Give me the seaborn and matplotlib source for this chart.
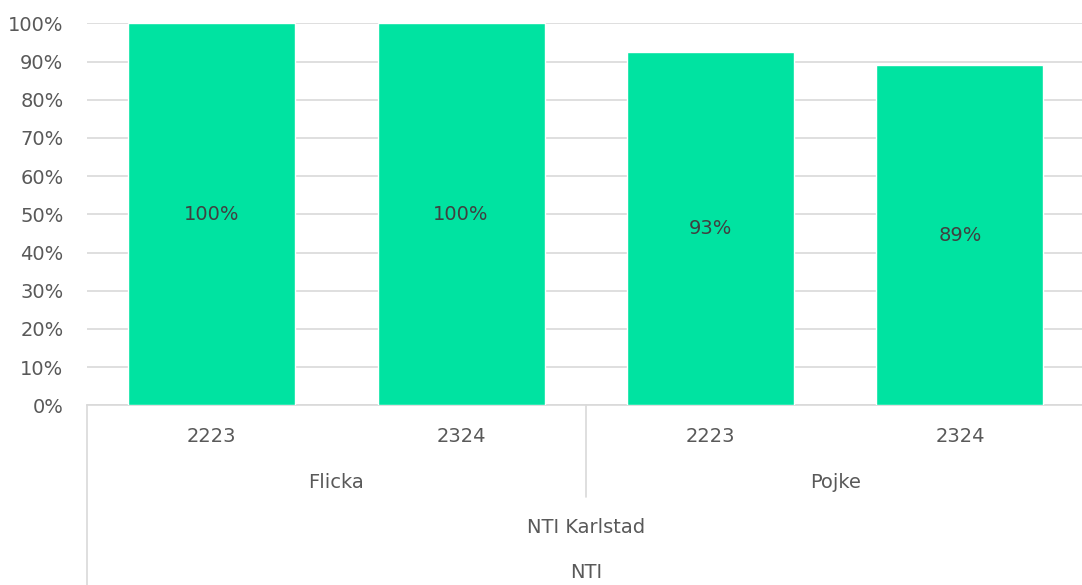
import pandas as pd
import matplotlib.pyplot as plt
import seaborn as sns
from matplotlib.ticker import PercentFormatter

# Data
skola = ['NTI', 'NTI', 'NTI', 'NTI']
enhet = ['NTI Karlstad', 'NTI Karlstad', 'NTI Karlstad', 'NTI Karlstad']
kon = ['Flicka', 'Flicka', 'Pojke', 'Pojke']
lasar = ['2223', '2324', '2223', '2324']
andel = [1.00, 1.00, 0.926, 0.89]

df = pd.DataFrame({'skola': skola, 'enhet': enhet, 'kon': kon,
                   'lasar': lasar, 'andel': andel})
df['id'] = df['kon'] + ' ' + df['lasar']

sns.set_theme(style='white')
plt.rcParams['font.family'] = ['DejaVu Sans']

text_col = '#595959'
grid_col = '#d9d9d9'
bar_col = '#00E3A1'
fs = 14

fig = plt.figure(figsize=(10.82, 5.85), dpi=100)
ax = fig.add_axes([0.0804, 0.3072, 0.922, 0.6528])

sns.barplot(data=df, x='id', y='andel', color=bar_col, width=0.67,
            saturation=1, ax=ax, zorder=3)

ax.set_ylim(0, 1)
ax.set_xlim(-0.5, 3.5)
ax.set_yticks([i / 10 for i in range(11)])
ax.yaxis.set_major_formatter(PercentFormatter(1.0, decimals=0))
ax.tick_params(axis='y', length=0, labelsize=fs, colors=text_col, pad=17)
ax.tick_params(axis='x', length=0)
ax.set_xticks([])
ax.set_xlabel('')
ax.set_ylabel('')
ax.grid(axis='y', color=grid_col, linewidth=1.2, zorder=0)
for s in ['top', 'right', 'left']:
    ax.spines[s].set_visible(False)
ax.spines['bottom'].set_color(grid_col)
ax.spines['bottom'].set_linewidth(1.2)

ax.bar_label(ax.containers[0], labels=[f'{v:.0%}' for v in df['andel']],
             label_type='center', fontsize=fs, color='#404040')

trans = ax.get_xaxis_transform()
# year labels
for i, yr in enumerate(df['lasar']):
    ax.text(i, -0.083, yr, transform=trans, ha='center', va='center',
            fontsize=fs, color=text_col, clip_on=False)
# gender labels
for k in df['kon'].unique():
    pos = [i for i, v in enumerate(df['kon']) if v == k]
    ax.text(sum(pos) / len(pos), -0.203, k, transform=trans, ha='center',
            va='center', fontsize=fs, color=text_col, clip_on=False)
mid = (len(df) - 1) / 2
ax.text(mid, -0.319, enhet[0], transform=trans, ha='center', va='center',
        fontsize=fs, color=text_col, clip_on=False)
ax.text(mid, -0.439, skola[0], transform=trans, ha='center', va='center',
        fontsize=fs, color=text_col, clip_on=False)

# separator lines
ax.plot([-0.5, -0.5], [0, -0.5], transform=trans, color=grid_col,
        linewidth=1.2, clip_on=False)
ax.plot([1.5, 1.5], [0, -0.24], transform=trans, color=grid_col,
        linewidth=1.2, clip_on=False)

fig.savefig('out.png', dpi=100)
